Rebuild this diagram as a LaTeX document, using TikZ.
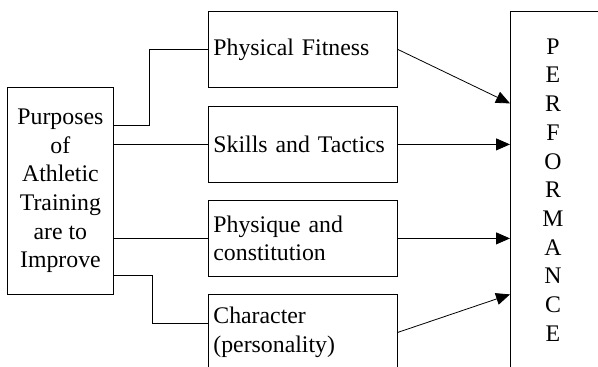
\documentclass[tikz,border=0pt]{standalone}
\usepackage{fontspec}
\setmainfont{Liberation Serif}
\usetikzlibrary{arrows.meta}

\begin{document}
\begin{tikzpicture}[x=1pt, y=-1pt, line width=0.8pt,
  txt/.style={font=\fontsize{23.8pt}{28.7pt}\selectfont},
  box/.style={draw, rectangle, anchor=north west, inner sep=0pt},
  goal/.style={box, txt, minimum height=76pt, text width=179pt, inner xsep=5pt, align=left},
  tip/.style={-{Triangle[length=14pt, width=12pt]}}]
\clip (0,0) rectangle (598,367);

% the four purposes
\node[box, txt, minimum width=106pt, minimum height=207pt, align=center] (purpose) at (7,87)
  {Purposes\\of\\Athletic\\Training\\are to\\Improve};
\node[goal] (fitness) at (208,11) {Physical Fitness};
\node[goal] (skills) at (208,106) {Skills and Tactics};
\node[goal] (physique) at (208,200) {Physique and\\constitution};
\node[goal] (character) at (208,294) {Character\\(personality)};

% performance column
\node[box, minimum width=110pt, minimum height=358pt] (perf) at (510,11) {};
\node[txt, align=center] (word) at (553,190) {P\\E\\R\\F\\O\\R\\M\\A\\N\\C\\E};

\draw[-]([yshift=66pt]purpose.east) -- ++(36,0) |- (fitness.west);
\draw[-](purpose.east |- skills.west) to (skills.west);
\draw[-](purpose.east |- physique.west) to (physique.west);
\draw[-]([yshift=-84pt]purpose.east) -- ++(39,0) |- ([yshift=9pt]character.west);

\draw[tip](fitness.east) to ([yshift=87pt]perf.west);
\draw[tip](skills.east) to (perf.west |- skills.east);
\draw[tip](physique.east) to (perf.west |- physique.east);
\draw[tip](character.east) to ([yshift=-104pt]perf.west);

\end{tikzpicture}
\end{document}
